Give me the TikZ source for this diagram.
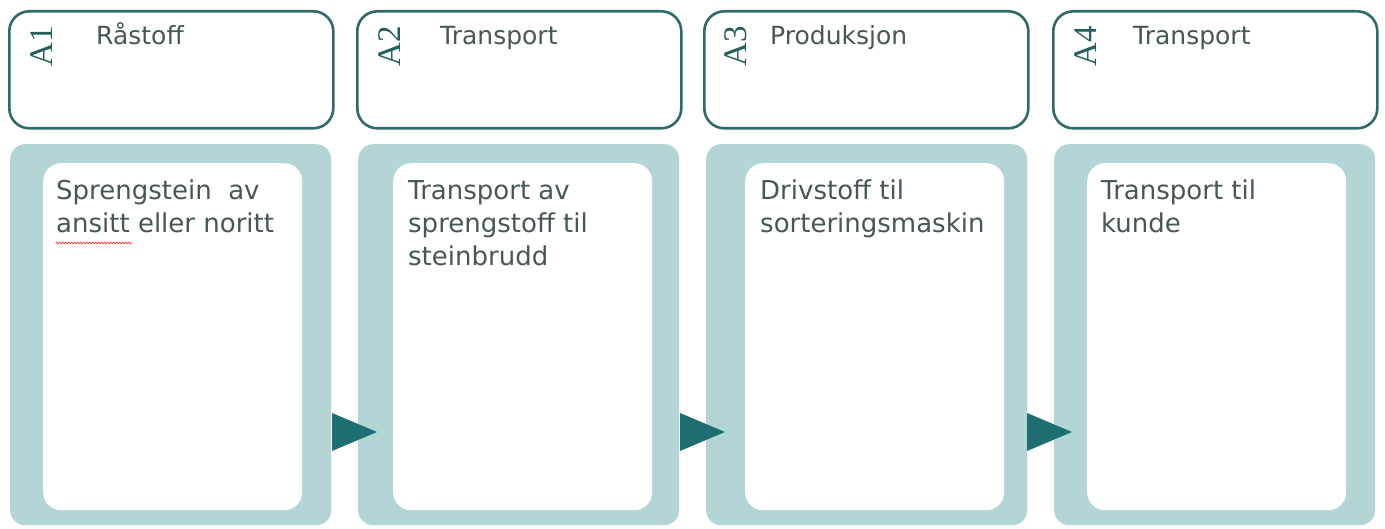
\documentclass[tikz,border=0pt]{standalone}
\usepackage{fontspec}
\setmainfont{DejaVu Sans}
\newfontfamily\labfont{Liberation Serif}
\usetikzlibrary{decorations.pathmorphing}
\definecolor{bordc}{HTML}{2F6A6A}
\definecolor{panelc}{HTML}{B4D5D6}
\definecolor{arrowc}{HTML}{1C6E70}
\definecolor{textc}{HTML}{455757}
\definecolor{labc}{HTML}{245F5E}
\tikzset{
  hdr/.style={draw=bordc, line width=2.6pt, fill=white, rounded corners=20pt,
    minimum width=324pt, minimum height=117pt, anchor=north west, inner sep=0pt},
  panel/.style={fill=panelc, rounded corners=15pt, minimum width=321pt,
    minimum height=381pt, anchor=north west, inner sep=0pt},
  inner/.style={fill=white, rounded corners=18pt, minimum width=259pt,
    minimum height=347pt, anchor=north west, inner sep=0pt},
  body/.style={anchor=north west, align=left, inner sep=0pt, text=textc,
    font=\fontsize{26}{33}\selectfont},
  ttl/.style={anchor=base west, inner sep=0pt, text=textc,
    font=\fontsize{25}{30}\selectfont},
  lab/.style={anchor=base west, inner sep=0pt, text=labc, rotate=90,
    font=\labfont\fontsize{33}{33}\selectfont},
  tri/.style={fill=arrowc}
}
\begin{document}
\begin{tikzpicture}[x=1pt,y=-1pt]
\useasboundingbox[fill=white] (0,0) rectangle (1385,529);
% header boxes
\node[hdr] (h1) at (8,10) {};
\node[hdr] (h2) at (356,10) {};
\node[hdr] (h3) at (703,10) {};
\node[hdr] (h4) at (1052,10) {};
% labels
\node[lab] (l1) at (52,67) {A1};
\node[lab] (l2) at (400,67) {A2};
\node[lab] (l3) at (746,67) {A3};
\node[lab] (l4) at (1096,67) {A4};
% titles
\node[ttl] (t1) at (96,45) {Råstoff};
\node[ttl] (t2) at (440,45) {Transport};
\node[ttl] (t3) at (770,45) {Produksjon};
\node[ttl] (t4) at (1133,45) {Transport};
% panels
\node[panel] (p1) at (10,144) {};
\node[panel] (p2) at (358,144) {};
\node[panel] (p3) at (706,144) {};
\node[panel] (p4) at (1054,144) {};
% inner boxes
\node[inner] (i1) at (43,163) {};
\node[inner] (i2) at (393,163) {};
\node[inner] (i3) at (745,163) {};
\node[inner] (i4) at (1087,163) {};
% body texts (first baseline at y = 199)
\node[body] (b1) at (56,175.9) {\strut Sprengstein\ \ av\\ansitt eller noritt};
\node[body] (b2) at (408,175.9) {\strut Transport av\\sprengstoff til\\steinbrudd};
\node[body] (b3) at (760,175.9) {\strut Drivstoff til\\sorteringsmaskin};
\node[body] (b4) at (1101,175.9) {\strut Transport til\\kunde};
% spell-check squiggle
\draw[red!80, line width=0.6pt, decorate, decoration={zigzag, amplitude=1pt, segment length=3pt}]
  (56,243) -- (132,243);
% arrows
\fill[tri] (332,413) -- (377,432) -- (332,451) -- cycle;
\fill[tri] (680,413) -- (725,432) -- (680,451) -- cycle;
\fill[tri] (1027,413) -- (1072,432) -- (1027,451) -- cycle;
\end{tikzpicture}
\end{document}
